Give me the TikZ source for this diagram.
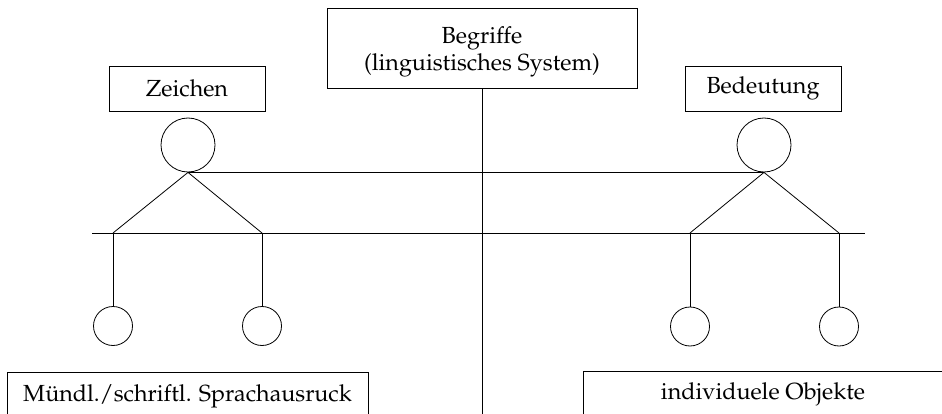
\documentclass[tikz,border=0pt]{standalone}
\usepackage[T1]{fontenc}
\renewcommand{\rmdefault}{ppl}
\begin{document}
\begin{tikzpicture}[x=1pt,y=-1pt,
  every node/.style={font=\fontsize{23.3}{27.5}\selectfont},
  lbox/.style={draw, line width=0.8pt, inner sep=0pt, align=center},
  bigc/.style={draw, circle, line width=0.8pt, minimum size=54pt, inner sep=0pt},
  smallc/.style={draw, circle, line width=0.8pt, minimum size=39pt, inner sep=0pt},
  ln/.style={line width=0.8pt}]
\clip (0,0) rectangle (942,414);
\fill[white] (0,0) rectangle (942,414);
% boxes
\node[lbox, minimum width=310pt, minimum height=80pt,
  label={[align=center, yshift=-4pt]center:Begriffe\\(linguistisches System)}] (begr) at (482,48) {};
\node[lbox, minimum width=156pt, minimum height=45pt] (zei) at (187,88.5) {Zeichen};
\node[lbox, minimum width=156pt, minimum height=45pt] (bed) at (763,88.5) {Bedeutung};
\node[lbox, minimum width=361pt, minimum height=48pt] (mue) at (187.5,396) {M\"undl./schriftl. Sprachausruck};
\node[lbox, minimum width=360pt, minimum height=46pt] (ind) at (763,394) {individuele Objekte};
% circles
\node[bigc] (cl) at (188,145) {};
\node[bigc] (cr) at (764,145) {};
\node[smallc] (l1) at (113,326) {};
\node[smallc] (l2) at (262,326) {};
\node[smallc] (r1) at (690,326.5) {};
\node[smallc] (r2) at (839,326.5) {};
% coordinates
\coordinate (hl) at (92,233);
\coordinate (hr) at (865,233);
\coordinate (jl1) at (113,233);
\coordinate (jl2) at (262,233);
\coordinate (jr1) at (690,233);
\coordinate (jr2) at (839,233);
\coordinate (vb) at (482,430);
% lines
\draw[ln] (begr.south) -- (vb);
\draw[ln] (hl) -- (hr);
\draw[ln] (cl.south) -- (cr.south);
\draw[ln] (jl1) -- (cl.south) -- (jl2);
\draw[ln] (jr1) -- (cr.south) -- (jr2);
\draw[ln] (jl1) -- (l1.north);
\draw[ln] (jl2) -- (l2.north);
\draw[ln] (jr1) -- (r1.north);
\draw[ln] (jr2) -- (r2.north);
\end{tikzpicture}
\end{document}
